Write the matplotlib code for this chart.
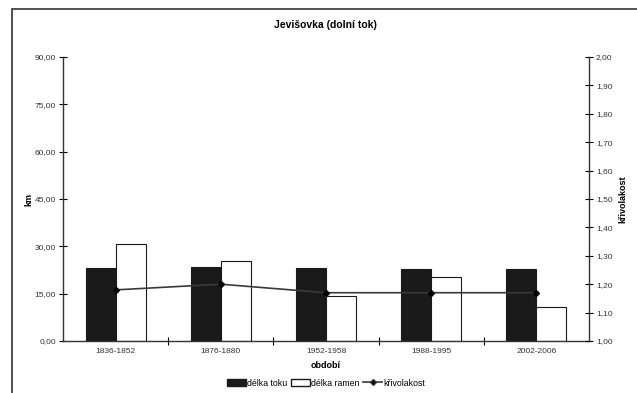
import matplotlib
matplotlib.use('Agg')
import matplotlib.pyplot as plt
from matplotlib.ticker import FuncFormatter, MultipleLocator
from matplotlib.lines import Line2D
import numpy as np

plt.rcParams['font.family'] = ['Liberation Sans', 'DejaVu Sans']

periods = ['1836-1852', '1876-1880', '1952-1958', '1988-1995', '2002-2006']
delka_toku = [23.1, 23.6, 23.0, 22.9, 22.8]
delka_ramen = [30.7, 25.3, 14.4, 20.3, 10.8]
krivolakost = [1.18, 1.20, 1.17, 1.17, 1.17]


def comma(v, pos):
    return f'{v:.2f}'.replace('.', ',')


fig = plt.figure(figsize=(6.37, 3.93), dpi=100)
# outer chart frame (right and bottom edges are outside the image)
fig.patches.append(plt.Rectangle((12 / 637, -0.1), 1.2, 1 - 9 / 393 + 0.1,
                                 transform=fig.transFigure, fill=False,
                                 edgecolor='#333333', linewidth=1.2))

ax = fig.add_axes([63 / 637, 1 - 341 / 393, (589 - 63) / 637, (341 - 57) / 393])
ax2 = ax.twinx()

x = np.arange(len(periods))
w = 0.285
ax.bar(x - w / 2, delka_toku, w, color='#1a1a1a', edgecolor='#1a1a1a',
       linewidth=0.8, label='délka toku', zorder=2)
ax.bar(x + w / 2, delka_ramen, w, color='white', edgecolor='#1a1a1a',
       linewidth=0.8, label='délka ramen', zorder=2)
ax2.plot(x, krivolakost, color='#3a3a3a', linewidth=1.2, marker='D',
         markersize=3, markerfacecolor='black', markeredgecolor='black',
         label='křivolakost')

ax.set_xlim(-0.5, len(periods) - 0.5)
ax.set_ylim(0, 90)
ax2.set_ylim(1.0, 2.0)
ax.yaxis.set_major_locator(MultipleLocator(15))
ax2.yaxis.set_major_locator(MultipleLocator(0.1))
ax.yaxis.set_major_formatter(FuncFormatter(comma))
ax2.yaxis.set_major_formatter(FuncFormatter(comma))

ax.set_xticks(x)
ax.set_xticklabels(periods)
ax.set_xticks(np.arange(0.5, len(periods) - 0.5), minor=True)
ax.tick_params(axis='x', which='major', length=0, labelsize=6,
               labelcolor='#333333', pad=5)
ax.tick_params(axis='x', which='minor', direction='inout', length=6,
               width=0.8)
ax.tick_params(axis='y', direction='inout', length=6, width=0.8,
               labelsize=6, labelcolor='#333333', pad=2)
ax2.tick_params(axis='y', direction='inout', length=6, width=0.8,
                labelsize=6, labelcolor='#333333', pad=2)

for a in (ax, ax2):
    a.spines['top'].set_visible(False)
    for s in a.spines.values():
        s.set_linewidth(1.0)
        s.set_color('#333333')
ax.spines['right'].set_visible(False)
ax2.spines['left'].set_visible(False)
ax2.spines['bottom'].set_visible(False)

ax.set_xlabel('období', fontsize=6.5, fontweight='bold', labelpad=4)
ax.set_ylabel('km', fontsize=6.5, fontweight='bold', labelpad=1)
ax2.set_ylabel('křivolakost', fontsize=6.5, fontweight='bold', labelpad=4)

fig.text(325 / 637, 1 - 25 / 393, 'Jevišovka (dolní tok)', ha='center',
         va='center', fontsize=7.5, fontweight='bold')

handles = [plt.Rectangle((0, 0), 1, 1, facecolor='#1a1a1a', edgecolor='#1a1a1a'),
           plt.Rectangle((0, 0), 1, 1, facecolor='white', edgecolor='#1a1a1a'),
           Line2D([], [], color='#3a3a3a', marker='D', markersize=3,
                  markerfacecolor='black', linewidth=1.2)]
fig.legend(handles, ['délka toku', 'délka ramen', 'křivolakost'],
           loc='center', bbox_to_anchor=(326 / 637, 1 - 383 / 393), ncol=3,
           frameon=False, fontsize=6.3, handlelength=2.2, handleheight=0.8,
           handletextpad=0.1, columnspacing=0.4)

fig.savefig('out.png', dpi=100)
